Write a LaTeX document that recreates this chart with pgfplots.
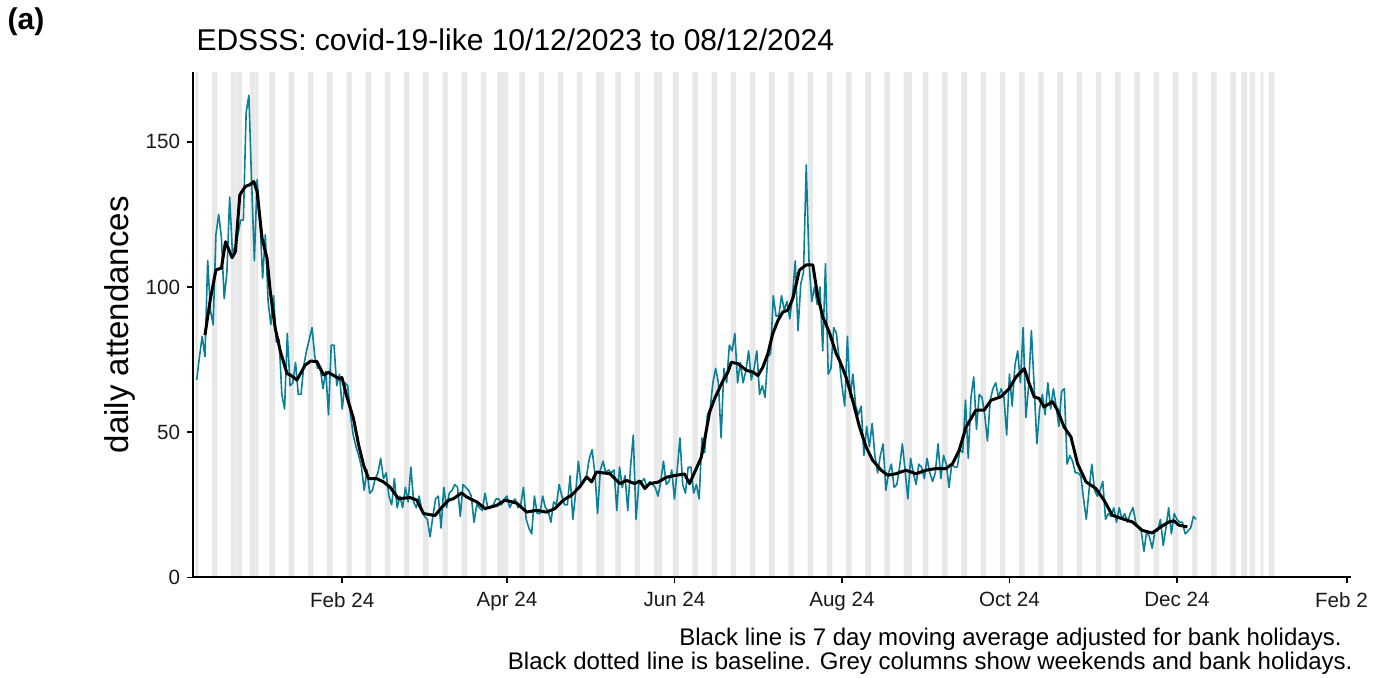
\documentclass[border=0pt]{standalone}
\usepackage{fontspec}
\setmainfont{Liberation Sans}
\usepackage{pgfplots}
\pgfplotsset{compat=1.18}
\definecolor{tealline}{RGB}{10,128,152}
\definecolor{colgrey}{RGB}{232,232,232}
\begin{document}
\begin{tikzpicture}
\begin{axis}[
  scale only axis, width=578.5pt, height=252.5pt,
  xmin=-1.3, xmax=420.4, ymin=0, ymax=174,
  axis x line*=bottom, axis y line*=left,
  axis line style={line width=1pt, black},
  axis on top,
  xtick={53,113,174,235,296,357,419},
  xticklabels={Feb 24, Apr 24, Jun 24, Aug 24, Oct 24, Dec 24, {Feb 2\phantom{5}}},
  ytick={0,50,100,150},
  tick align=outside, major tick length=3pt,
  tick style={line width=0.8pt, black},
  ticklabel style={font=\fontsize{10.3}{12}\selectfont, text=black!90},
  xticklabel style={yshift=-1pt},
  /pgf/number format/assume math mode=true,
]
% weekends
\addplot[ybar, bar width=1, bar shift=0, fill=colgrey, draw=none] coordinates {
(0,174) (6,174) (7,174) (13,174) (14,174) (20,174) (21,174) (27,174) (28,174) (34,174) (35,174)
(41,174) (42,174) (48,174) (49,174) (55,174) (56,174) (62,174) (63,174) (69,174) (70,174)
(76,174) (77,174) (83,174) (84,174) (90,174) (91,174) (97,174) (98,174) (104,174) (105,174)
(111,174) (112,174) (118,174) (119,174) (125,174) (126,174) (132,174) (133,174) (139,174) (140,174)
(146,174) (147,174) (153,174) (154,174) (160,174) (161,174) (167,174) (168,174) (174,174) (175,174)
(181,174) (182,174) (188,174) (189,174) (195,174) (196,174) (202,174) (203,174) (209,174) (210,174)
(216,174) (217,174) (223,174) (224,174) (230,174) (231,174) (237,174) (238,174) (244,174) (245,174)
(251,174) (252,174) (258,174) (259,174) (265,174) (266,174) (272,174) (273,174) (279,174) (280,174)
(286,174) (287,174) (293,174) (294,174) (300,174) (301,174) (307,174) (308,174) (314,174) (315,174)
(321,174) (322,174) (328,174) (329,174) (335,174) (336,174) (342,174) (343,174) (349,174) (350,174)
(356,174) (357,174) (363,174) (364,174) (370,174) (371,174) (377,174) (378,174) (384,174) (385,174)
(391,174) (392,174)
};
% bank holidays
\addplot[ybar, bar width=1, bar shift=0, fill=colgrey, draw=none] coordinates {
(15,174) (16,174) (22,174) (110,174) (113,174) (148,174) (169,174) (260,174) (381,174) (382,174) (388,174)
};
% daily counts
\addplot[tealline, line width=0.8pt, line join=round] coordinates {
(0,68) (1,76) (2,83) (3,76) (4,109) (5,92) (6,87) (7,118) (8,125) (9,117)
(10,96) (11,105) (12,131) (13,112) (14,114) (15,118) (16,123) (17,123) (18,160) (19,166)
(20,136) (21,109) (22,137) (23,124) (24,103) (25,118) (26,95) (27,87) (28,97) (29,81)
(30,82) (31,63) (32,58) (33,84) (34,66) (35,67) (36,74) (37,63) (38,63) (39,73)
(40,78) (41,82) (42,86) (43,76) (44,72) (45,72) (46,65) (47,71) (48,56) (49,80)
(50,80) (51,66) (52,70) (53,58) (54,67) (55,66) (56,56) (57,49) (58,45) (59,42)
(60,38) (61,30) (62,37) (63,29) (64,30) (65,34) (66,36) (67,41) (68,34) (69,36)
(70,28) (71,25) (72,34) (73,24) (74,28) (75,24) (76,31) (77,26) (78,38) (79,26)
(80,24) (81,28) (82,23) (83,21) (84,20) (85,14) (86,21) (87,27) (88,28) (89,17)
(90,31) (91,24) (92,29) (93,30) (94,32) (95,31) (96,21) (97,32) (98,31) (99,30)
(100,28) (101,19) (102,25) (103,24) (104,23) (105,29) (106,24) (107,24) (108,25) (109,27)
(110,27) (111,25) (112,27) (113,28) (114,24) (115,26) (116,27) (117,24) (118,25) (119,31)
(120,20) (121,17) (122,15) (123,28) (124,22) (125,22) (126,28) (127,24) (128,23) (129,19)
(130,26) (131,25) (132,32) (133,28) (134,25) (135,25) (136,35) (137,20) (138,29) (139,40)
(140,32) (141,33) (142,35) (143,41) (144,44) (145,36) (146,22) (147,37) (148,40) (149,36)
(150,37) (151,36) (152,37) (153,23) (154,38) (155,31) (156,35) (157,23) (158,38) (159,49)
(160,20) (161,32) (162,33) (163,34) (164,31) (165,33) (166,32) (167,31) (168,28) (169,33)
(170,40) (171,32) (172,33) (173,37) (174,27) (175,37) (176,48) (177,32) (178,29) (179,38)
(180,38) (181,29) (182,32) (183,27) (184,48) (185,43) (186,56) (187,58) (188,67) (189,72)
(190,67) (191,48) (192,72) (193,67) (194,80) (195,78) (196,84) (197,67) (198,74) (199,67)
(200,71) (201,78) (202,68) (203,72) (204,78) (205,63) (206,66) (207,62) (208,76) (209,77)
(210,97) (211,90) (212,90) (213,97) (214,92) (215,95) (216,89) (217,97) (218,109) (219,85)
(220,101) (221,105) (222,142) (223,109) (224,95) (225,100) (226,94) (227,100) (228,78) (229,108)
(230,70) (231,72) (232,86) (233,84) (234,75) (235,66) (236,59) (237,83) (238,62) (239,70)
(240,59) (241,56) (242,59) (243,42) (244,52) (245,45) (246,53) (247,42) (248,36) (249,42)
(250,46) (251,30) (252,36) (253,39) (254,31) (255,32) (256,38) (257,46) (258,37) (259,27)
(260,41) (261,36) (262,32) (263,39) (264,38) (265,34) (266,41) (267,36) (268,33) (269,36)
(270,46) (271,34) (272,42) (273,39) (274,31) (275,39) (276,38) (277,38) (278,44) (279,43)
(280,61) (281,41) (282,62) (283,69) (284,51) (285,63) (286,62) (287,56) (288,47) (289,61)
(290,65) (291,67) (292,62) (293,65) (294,62) (295,49) (296,70) (297,59) (298,73) (299,78)
(300,67) (301,86) (302,55) (303,66) (304,85) (305,66) (306,46) (307,58) (308,63) (309,56)
(310,67) (311,58) (312,65) (313,59) (314,52) (315,64) (316,65) (317,39) (318,42) (319,40)
(320,36) (321,36) (322,35) (323,27) (324,20) (325,30) (326,39) (327,30) (328,28) (329,30)
(330,33) (331,20) (332,22) (333,21) (334,24) (335,19) (336,24) (337,20) (338,22) (339,19)
(340,22) (341,24) (342,19) (343,17) (344,16) (345,9) (346,16) (347,14) (348,10) (349,16)
(350,16) (351,20) (352,11) (353,17) (354,24) (355,15) (356,22) (357,20) (358,19) (359,19)
(360,15) (361,16) (362,17) (363,21) (364,20)
};
% 7 day moving average
\addplot[black, line width=1.5pt, line join=round] coordinates {
(3,83.4) (5,96) (7,105.9) (9,106.5) (10.5,115.6) (12.9,110.1) (14.1,112.2) (15.7,131.7)
(17.7,134.6) (19.3,135.2) (20.8,136.3) (22,132.9) (23.8,116.8) (25.6,109.9) (26.8,98.4)
(28.6,85.8) (30.5,77.7) (32.9,70.2) (34.1,69.7) (36.5,68) (39.5,73.1) (41.5,74.5) (43.8,74.3)
(46.2,69.7) (48,70.6) (51.7,68.5) (52.9,68.8) (54.7,62.2) (57.1,54.7) (59,45.5) (60.8,38.6)
(62.6,34) (65.6,34) (68,32.9) (70.5,31) (73.5,27.1) (77.7,27.5) (80.2,26.6) (82.6,22)
(85,21.6) (86.8,21.3) (89.3,24.2) (91.7,26.6) (93.5,27.1) (96.5,29.1) (98.3,27.7) (102,26)
(105,23.7) (109.3,24.8) (112.3,26.6) (116.5,25.6) (120.2,22.5) (123.8,23.1) (127.4,22.5)
(130.5,23.7) (133.5,26.6) (136.5,28.3) (139.5,31.2) (142,34.6) (143.8,32.9) (145.6,36.3)
(150.5,35.7) (154.1,32.3) (156.5,33.4) (159.5,32.3) (161.4,33.2) (163.2,30.6) (165,32.3)
(168,32.8) (171.1,34.5) (174.1,35.1) (177.7,35.6) (179.5,32.3) (181.4,36.3) (183.8,41.4)
(185.6,50.6) (186.8,56.9) (188.6,61.5) (191.7,67.8) (193.5,70.7) (194.7,74.1) (197.1,73.6)
(200.2,71.3) (202.6,70.7) (204.4,69.5) (206.2,72.4) (208,77) (209.8,83.9) (211.7,88.5)
(213.5,91.4) (215.3,92) (217.1,96) (219.5,105.8) (222,107.6) (224.4,107.6) (226.2,96.7)
(228,89.8) (230.5,84.1) (232.9,77.1) (234.1,74.8) (236.5,69) (238.9,61) (241.4,51.8)
(243.8,44.9) (246.2,40.3) (249.3,36.9) (251.7,35.2) (254.7,35.7) (258.3,36.9) (262,35.7)
(265.6,36.9) (269.3,37.5) (272.9,37.5) (275.3,39.2) (277.7,43.8) (280.2,51.8) (283.8,57.6)
(286.8,57.6) (289.3,61) (292.9,62.2) (295.9,65) (298.4,69) (301.4,71.9) (303.2,66.8)
(305,62.2) (306.8,61.6) (308.6,58.7) (311.7,60.5) (313.5,57.6) (315.9,51.8) (318.4,48.4)
(320.8,39.2) (323.9,32.9) (327.5,30.6) (330.5,26.5) (333.5,21.4) (337.1,20.2) (340.8,19.1)
(344.4,16.2) (348,15.3) (351.1,17.4) (354.1,19.1) (355.9,19.5) (357.7,18) (360.8,17.4)
};
\end{axis}
\node[rotate=90, font=\fontsize{16.5}{20}\selectfont] at ([xshift=-36.5pt]current axis.west) {daily attendances};
\node[anchor=base west, inner sep=0pt, font=\fontsize{15}{18}\selectfont] at ([xshift=1.5pt,yshift=263.5pt]current axis.south west) {EDSSS: covid-19-like 10/12/2023 to 08/12/2024};
\node[anchor=center, font=\bfseries\fontsize{15}{18}\selectfont] at ([xshift=-83.5pt,yshift=277.5pt]current axis.south west) {(a)};
\node[anchor=base east, inner sep=0pt, font=\fontsize{12}{14}\selectfont] at ([xshift=574pt,yshift=-34pt]current axis.south west) {Black line is 7 day moving average adjusted for bank holidays.};
\node[anchor=base east, inner sep=0pt, font=\fontsize{12}{14}\selectfont] at ([xshift=579.5pt,yshift=-46pt]current axis.south west) {Black dotted line is baseline. Grey columns show weekends and bank holidays.};
\pgfresetboundingbox
\useasboundingbox ([xshift=-96.5pt,yshift=-50pt]current axis.south west) rectangle ([xshift=596.5pt,yshift=288.5pt]current axis.south west);
\end{tikzpicture}
\end{document}
